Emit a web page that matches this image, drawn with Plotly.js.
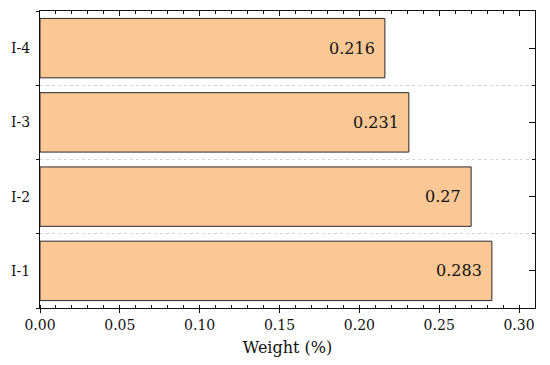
<!DOCTYPE html>
<html><head><meta charset="utf-8">
<script src="https://cdn.plot.ly/plotly-3.0.1.min.js"></script>
<style>html,body{margin:0;padding:0;background:#fff}</style>
</head><body>
<div id="chart" style="width:550px;height:365px"></div>
<script>
const categories = ["I-1", "I-2", "I-3", "I-4"];
const weights = [0.283, 0.27, 0.231, 0.216];
const xTicks = [0.00, 0.05, 0.10, 0.15, 0.20, 0.25, 0.30];
const xTickLabels = ["0.00", "0.05", "0.10", "0.15", "0.20", "0.25", "0.30"];

const FONT = "'DejaVu Serif', 'Liberation Serif', serif";
const trace = {
  type: "bar", orientation: "h",
  y: categories, x: weights,
  width: 0.8,
  marker: {color: "#FBC794", line: {color: "#2a2a2a", width: 1}},
  hoverinfo: "none"
};
const trace2 = {type: "scatter", x: [0], y: [null], yaxis: "y2", xaxis: "x2", showlegend: false, hoverinfo: "none"};

const annotations = categories.map((c, i) => ({
  x: weights[i], y: c, xref: "x", yref: "y", text: String(weights[i]),
  showarrow: false, xanchor: "right", yanchor: "middle", xshift: -8,
  font: {family: FONT, size: 16, color: "#111"}
}));

const layout = {
  width: 550, height: 365,
  margin: {l: 40, r: 15, t: 11, b: 57},
  paper_bgcolor: "#fff", plot_bgcolor: "#fff",
  showlegend: false,
  font: {family: FONT, color: "#111"},
  xaxis: {
    range: [0, 0.31], tickvals: xTicks, ticktext: xTickLabels,
    ticks: "outside", ticklen: 4, tickwidth: 1, tickcolor: "#111",
    minor: {dtick: 0.01, ticks: "inside", ticklen: 3, tickcolor: "#111", showgrid: false},
    showline: true, linecolor: "#111", linewidth: 1, mirror: true,
    showgrid: false, zeroline: false,
    tickfont: {family: FONT, size: 14, color: "#111"},
    title: {text: "Weight (%)", font: {family: FONT, size: 16, color: "#111"}, standoff: 10}
  },
  xaxis2: {
    overlaying: "x", matches: "x", side: "top", anchor: "y",
    range: [0, 0.31], tickvals: xTicks, showticklabels: false,
    ticks: "inside", ticklen: 5, tickcolor: "#111",
    minor: {dtick: 0.01, ticks: "inside", ticklen: 3, tickcolor: "#111"},
    showgrid: false, zeroline: false, showline: false
  },
  yaxis: {
    type: "category", categoryorder: "array", categoryarray: categories,
    range: [-0.5, 3.5],
    tickson: "boundaries", ticks: "outside", ticklen: 3, tickcolor: "#111",
    ticklabelstandoff: 6,
    showline: true, linecolor: "#111", linewidth: 1, mirror: true,
    showgrid: true, gridcolor: "#d6d6d6", griddash: "dot", gridwidth: 1,
    tickfont: {family: FONT, size: 14, color: "#111"}
  },
  yaxis2: {
    overlaying: "y", side: "right", anchor: "x",
    range: [-0.5, 3.5], tickvals: [0, 1, 2, 3], showticklabels: false,
    ticks: "inside", ticklen: 6, tickcolor: "#111",
    minor: {tickvals: [0.5, 1.5, 2.5], ticks: "inside", ticklen: 3, tickcolor: "#111"},
    showgrid: false, zeroline: false, showline: false
  },
  annotations: annotations
};
Plotly.newPlot("chart", [trace, trace2], layout, {displayModeBar: false, staticPlot: true});
</script>
</body></html>
